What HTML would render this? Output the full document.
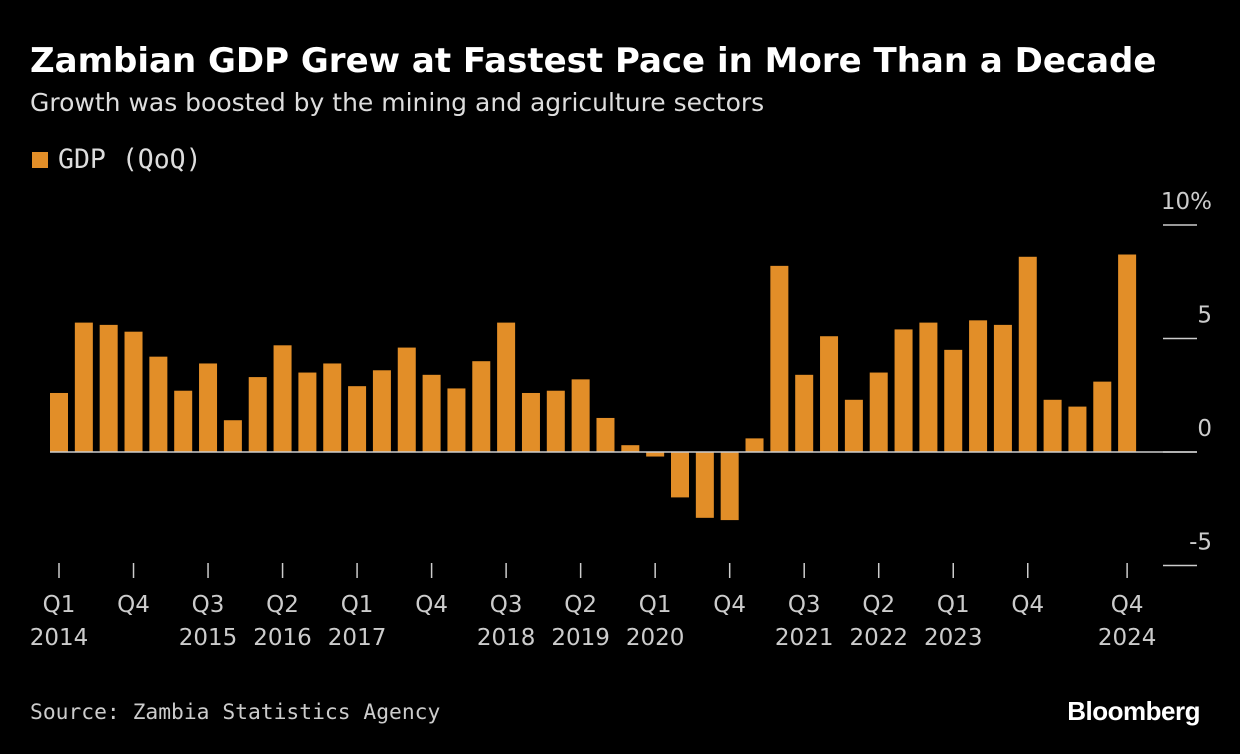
<!DOCTYPE html>
<html><head><meta charset="utf-8"><style>
body{margin:0;background:#000;width:1240px;height:754px;overflow:hidden;font-family:"Liberation Sans",sans-serif;color:#fff}
.t{position:absolute;left:30px;top:41px;font-size:34px;font-weight:bold;font-family:"DejaVu Sans",sans-serif;white-space:nowrap}
.s{position:absolute;left:30px;top:88px;font-size:25px;color:#ddd;font-family:"DejaVu Sans",sans-serif}
.lg{position:absolute;left:32px;top:144px;font-size:26.5px;color:#ddd;font-family:"DejaVu Sans Mono",monospace}
.lg span{display:inline-block;width:16px;height:16px;background:#e28e28;margin-right:10px;vertical-align:0px}
.src{position:absolute;left:30px;top:700px;font-size:21.3px;color:#ccc;font-family:"DejaVu Sans Mono",monospace}
.bb{position:absolute;right:40px;top:696px;font-size:26px;font-weight:bold;letter-spacing:-0.5px}
svg{position:absolute;left:0;top:0}
</style></head><body>
<div class="t">Zambian GDP Grew at Fastest Pace in More Than a Decade</div>
<div class="s">Growth was boosted by the mining and agriculture sectors</div>
<div class="lg"><span></span>GDP (QoQ)</div>
<div class="src">Source: Zambia Statistics Agency</div>
<div class="bb">Bloomberg</div>
<svg width="1240" height="754" id="c"></svg>
<script>
const values=[2.6,5.7,5.6,5.3,4.2,2.7,3.9,1.4,3.3,4.7,3.5,3.9,2.9,3.6,4.6,3.4,2.8,4.0,5.7,2.6,2.7,3.2,1.5,0.3,-0.2,-2.0,-2.9,-3.0,0.6,8.2,3.4,5.1,2.3,3.5,5.4,5.7,4.5,5.8,5.6,8.6,2.3,2.0,3.1,8.7];
const yTicks=[10,5,0,-5];
const yTickLabels=["10%","5","0","-5"];
const xTickIdx=[0,3,6,9,12,15,18,21,24,27,30,33,36,39,43];
const xTickQ=["Q1","Q4","Q3","Q2","Q1","Q4","Q3","Q2","Q1","Q4","Q3","Q2","Q1","Q4","Q4"];
const xTickY=["2014","","2015","2016","2017","","2018","2019","2020","","2021","2022","2023","","2024"];
const NS="http://www.w3.org/2000/svg",svg=document.getElementById('c');
const y=v=>452-v*22.7, x=i=>59+i*24.84;
function mk(t,a){const e=document.createElementNS(NS,t);for(const k in a)e.setAttribute(k,a[k]);svg.appendChild(e);return e;}
yTicks.forEach((v,i)=>{
 const l=mk('line',{x1:1163,x2:1197,y1:y(v),y2:y(v),stroke:'#ccc','stroke-width':1.5});
 
 
 const t=mk('text',{x:1212,y:y(v)-16,'text-anchor':'end',fill:'#ccc','font-size':23,'font-family':'DejaVu Sans,sans-serif'});
 t.textContent=yTickLabels[i];
 
 
});
values.forEach((v,i)=>{
 const r=mk('rect',{x:x(i)-9,y:Math.min(y(v),y(0)),width:18,height:Math.abs(y(v)-y(0)),fill:'#e28e28'});
 
 
});
const z=mk('line',{x1:50,x2:1197,y1:y(0),y2:y(0),stroke:'#ccc','stroke-width':1.5});


xTickIdx.forEach((idx,i)=>{
 const l=mk('line',{x1:x(idx),x2:x(idx),y1:563,y2:578,stroke:'#ccc','stroke-width':1.5});
 
 
 const t=mk('text',{x:x(idx),y:612,'text-anchor':'middle',fill:'#ccc','font-size':23,'font-family':'DejaVu Sans,sans-serif'});
 t.textContent=xTickQ[i];
 
 
 if(xTickY[i]){const u=mk('text',{x:x(idx),y:645,'text-anchor':'middle',fill:'#ccc','font-size':23,'font-family':'DejaVu Sans,sans-serif'});
 u.textContent=xTickY[i];
 
 }
});
</script>
</body></html>
